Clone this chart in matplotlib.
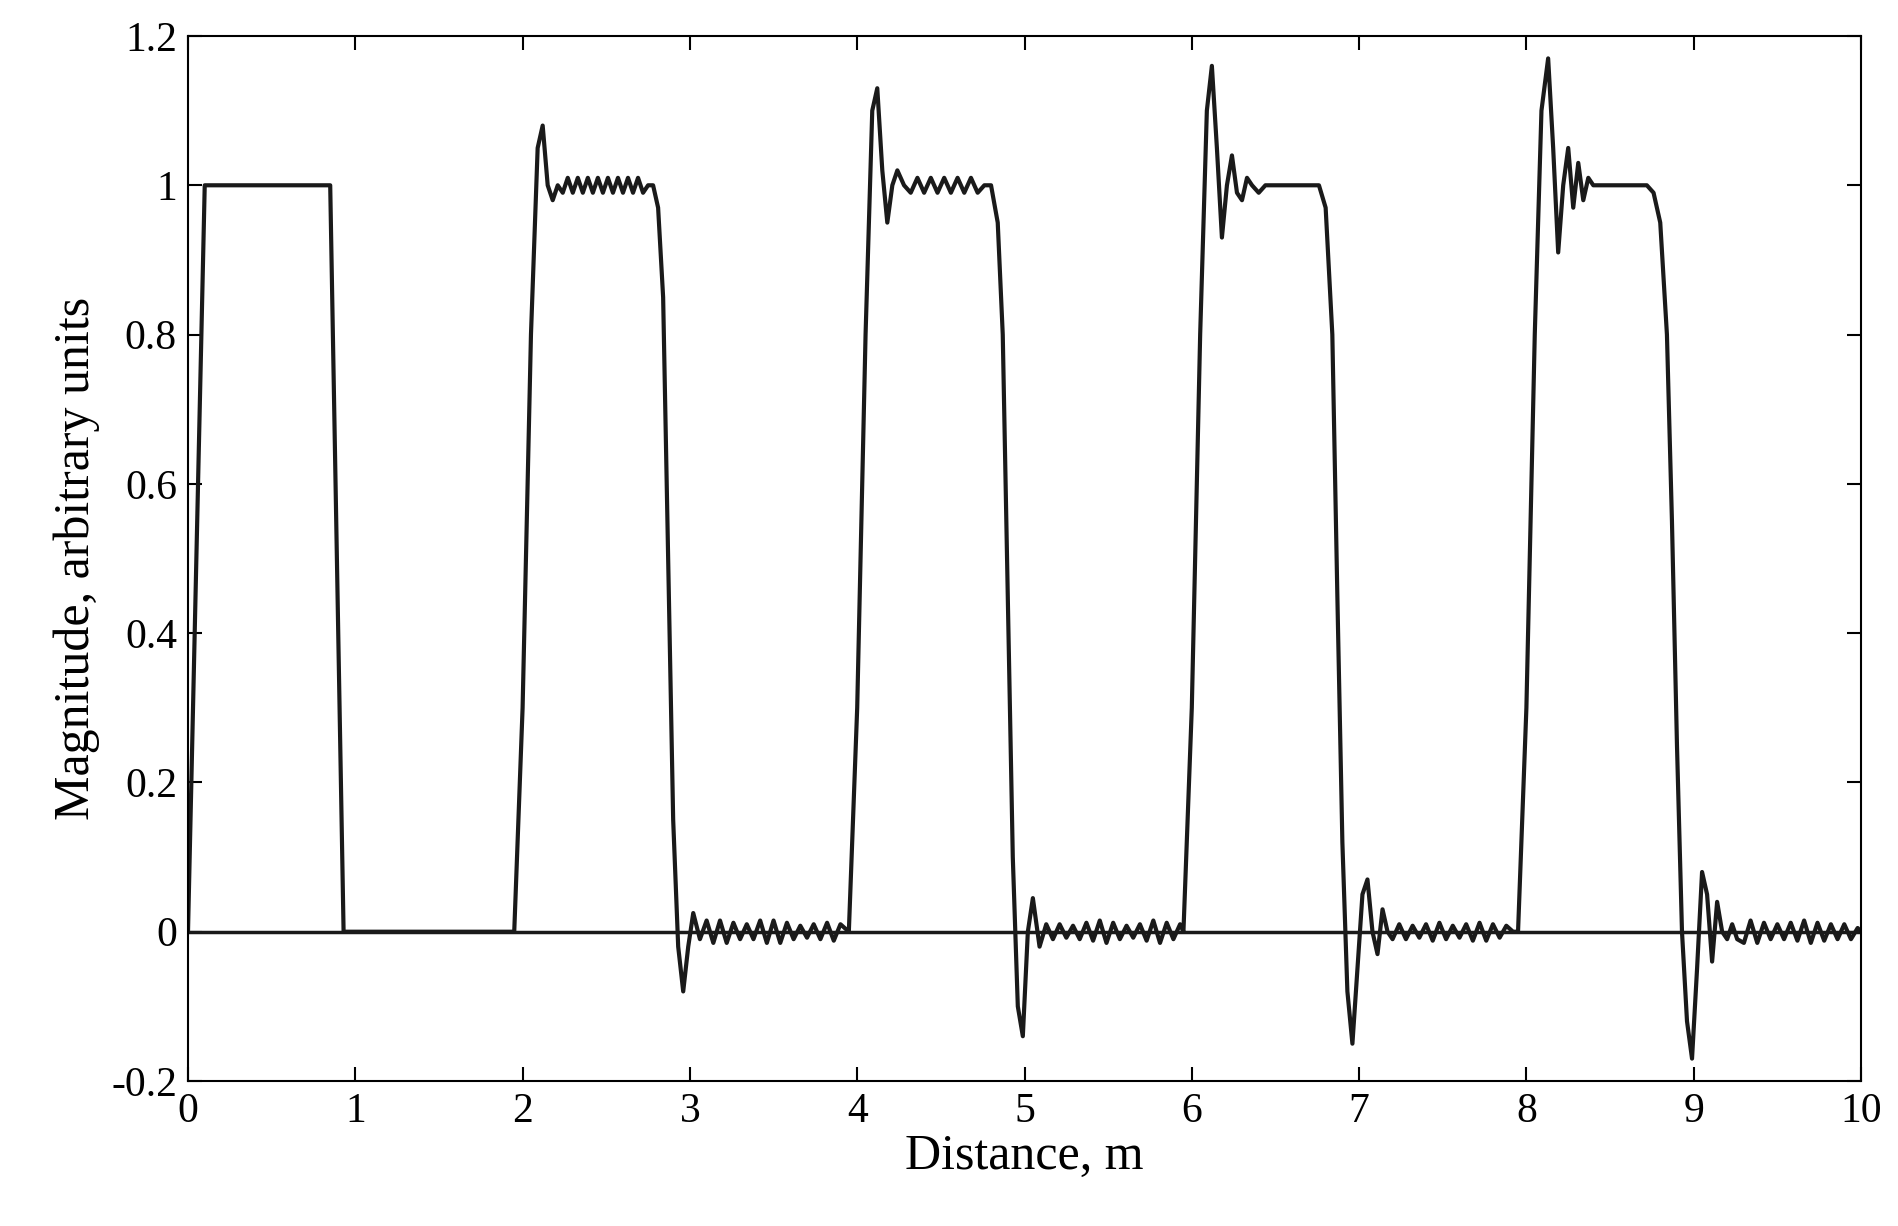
import matplotlib
matplotlib.use("Agg")
import matplotlib.pyplot as plt

# Waveform sampled by hand from the reference (distance in m, magnitude)
dist = [0.0, 0.1, 0.85, 0.93, 1.95,
        2.0, 2.05, 2.09, 2.12, 2.15, 2.18, 2.21, 2.24, 2.27, 2.30, 2.33, 2.36, 2.39, 2.42, 2.45, 2.48, 2.51, 2.54, 2.57, 2.60, 2.63, 2.66, 2.69, 2.72, 2.75, 2.78, 2.81, 2.84, 2.87, 2.90, 2.93, 2.96, 2.99, 3.02, 3.06, 3.10, 3.14, 3.18, 3.22, 3.26, 3.30, 3.34, 3.38, 3.42, 3.46, 3.50, 3.54, 3.58, 3.62, 3.66, 3.70, 3.74, 3.78, 3.82, 3.86, 3.90,
        3.95, 4.0, 4.05, 4.09, 4.12, 4.15, 4.18, 4.21, 4.24, 4.28, 4.32, 4.36, 4.40, 4.44, 4.48, 4.52, 4.56, 4.60, 4.64, 4.68, 4.72, 4.76, 4.80, 4.84, 4.87, 4.90, 4.93, 4.96, 4.99, 5.02, 5.05, 5.09, 5.13, 5.17, 5.21, 5.25, 5.29, 5.33, 5.37, 5.41, 5.45, 5.49, 5.53, 5.57, 5.61, 5.65, 5.69, 5.73, 5.77, 5.81, 5.85, 5.89, 5.93,
        5.95, 6.0, 6.05, 6.09, 6.12, 6.15, 6.18, 6.21, 6.24, 6.27, 6.30, 6.33, 6.36, 6.40, 6.44, 6.48, 6.52, 6.56, 6.60, 6.64, 6.68, 6.72, 6.76, 6.80, 6.84, 6.87, 6.90, 6.93, 6.96, 6.99, 7.02, 7.05, 7.08, 7.11, 7.14, 7.17, 7.20, 7.24, 7.28, 7.32, 7.36, 7.40, 7.44, 7.48, 7.52, 7.56, 7.60, 7.64, 7.68, 7.72, 7.76, 7.80, 7.84, 7.88, 7.92,
        7.95, 8.0, 8.05, 8.09, 8.13, 8.16, 8.19, 8.22, 8.25, 8.28, 8.31, 8.34, 8.37, 8.40, 8.44, 8.48, 8.52, 8.56, 8.60, 8.64, 8.68, 8.72, 8.76, 8.80, 8.84, 8.87, 8.90, 8.93, 8.96, 8.99, 9.02, 9.05, 9.08, 9.11, 9.14, 9.17, 9.20, 9.23, 9.26, 9.30, 9.34, 9.38, 9.42, 9.46, 9.50, 9.54, 9.58, 9.62, 9.66, 9.70, 9.74, 9.78, 9.82, 9.86, 9.90, 9.94, 9.98, 10.0]
mag = [0.0, 1.0, 1.0, 0.0, 0.0,
       0.3, 0.8, 1.05, 1.08, 1.0, 0.98, 1.0, 0.99, 1.01, 0.99, 1.01, 0.99, 1.01, 0.99, 1.01, 0.99, 1.01, 0.99, 1.01, 0.99, 1.01, 0.99, 1.01, 0.99, 1.0, 1.0, 0.97, 0.85, 0.5, 0.15, -0.02, -0.08, -0.02, 0.025, -0.01, 0.015, -0.015, 0.015, -0.015, 0.012, -0.01, 0.01, -0.01, 0.015, -0.015, 0.015, -0.015, 0.012, -0.01, 0.008, -0.008, 0.01, -0.01, 0.012, -0.012, 0.01,
       0.0, 0.3, 0.8, 1.1, 1.13, 1.02, 0.95, 1.0, 1.02, 1.0, 0.99, 1.01, 0.99, 1.01, 0.99, 1.01, 0.99, 1.01, 0.99, 1.01, 0.99, 1.0, 1.0, 0.95, 0.8, 0.45, 0.1, -0.1, -0.14, 0.0, 0.045, -0.02, 0.01, -0.01, 0.01, -0.008, 0.008, -0.01, 0.012, -0.012, 0.015, -0.015, 0.012, -0.01, 0.008, -0.008, 0.01, -0.012, 0.015, -0.015, 0.012, -0.01, 0.01,
       0.0, 0.3, 0.8, 1.1, 1.16, 1.05, 0.93, 1.0, 1.04, 0.99, 0.98, 1.01, 1.0, 0.99, 1.0, 1.0, 1.0, 1.0, 1.0, 1.0, 1.0, 1.0, 1.0, 0.97, 0.8, 0.45, 0.12, -0.08, -0.15, -0.05, 0.05, 0.07, 0.0, -0.03, 0.03, 0.0, -0.01, 0.01, -0.01, 0.008, -0.008, 0.01, -0.012, 0.012, -0.01, 0.008, -0.008, 0.01, -0.012, 0.012, -0.012, 0.01, -0.008, 0.008, 0.0,
       0.0, 0.3, 0.8, 1.1, 1.17, 1.05, 0.91, 1.0, 1.05, 0.97, 1.03, 0.98, 1.01, 1.0, 1.0, 1.0, 1.0, 1.0, 1.0, 1.0, 1.0, 1.0, 0.99, 0.95, 0.8, 0.55, 0.25, 0.0, -0.12, -0.17, -0.05, 0.08, 0.05, -0.04, 0.04, 0.0, -0.01, 0.01, -0.01, -0.015, 0.015, -0.015, 0.012, -0.01, 0.01, -0.01, 0.012, -0.012, 0.015, -0.015, 0.012, -0.012, 0.01, -0.01, 0.01, -0.01, 0.005, 0.0]

x_ticks = [0, 1, 2, 3, 4, 5, 6, 7, 8, 9, 10]
y_ticks = [-0.2, 0, 0.2, 0.4, 0.6, 0.8, 1.0, 1.2]
y_labels = ["-0.2", "0", "0.2", "0.4", "0.6", "0.8", "1", "1.2"]

plt.rcParams['font.family'] = ['Liberation Serif', 'DejaVu Serif']
fig = plt.figure(figsize=(18.99, 12.26), dpi=100)
ax = fig.add_axes([188/1899, 1-1081/1226, (1861-188)/1899, (1081-36)/1226])
ax.plot([0, 10], [0, 0], color='#1a1a1a', lw=2.5)
ax.plot(dist, mag, color='#1a1a1a', lw=3)
ax.set_xlim(0, 10)
ax.set_ylim(-0.2, 1.2)
ax.set_xticks(x_ticks)
ax.set_yticks(y_ticks)
ax.set_yticklabels(y_labels)
ax.tick_params(direction='in', length=10, width=1.5, labelsize=30, top=True, right=True, pad=8)
for s in ax.spines.values():
    s.set_linewidth(1.5)
ax.set_xlabel("Distance, m", fontsize=36, labelpad=2)
ax.set_ylabel("Magnitude, arbitrary units", fontsize=36, labelpad=8)
fig.savefig("out.png", dpi=100)
